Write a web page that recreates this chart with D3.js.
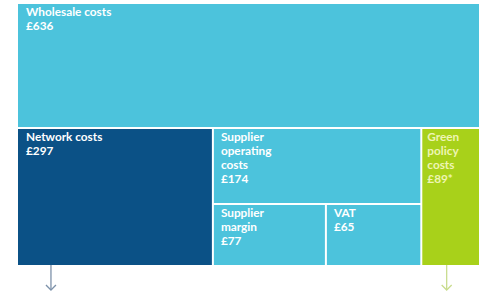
<!DOCTYPE html>
<html>
<head>
<meta charset="utf-8">
<script src="https://cdn.jsdelivr.net/npm/d3@7"></script>
<style>
  html, body { margin: 0; padding: 0; background: #ffffff; }
  svg { display: block; }
</style>
</head>
<body>
<svg id="chart" width="500" height="300"></svg>
<script>
// ---- data ----
const categories = ["Wholesale costs", "Network costs", "Supplier operating costs", "Supplier margin", "VAT", "Green policy costs"];
const labelLines = [
  ["Wholesale costs", "£636"],
  ["Network costs", "£297"],
  ["Supplier", "operating", "costs", "£174"],
  ["Supplier", "margin", "£77"],
  ["VAT", "£65"],
  ["Green", "policy", "costs", "£89*"]
];
const values = [636, 297, 174, 77, 65, 89];
// nesting path of each category (groups used by the slice/dice layout)
const groupPath = [
  ["top"],
  ["rest", "network"],
  ["rest", "middle", "op"],
  ["rest", "middle", "bottom", "margin"],
  ["rest", "middle", "bottom", "vat"],
  ["rest", "green"]
];
const fills = ["#4cc3dc", "#0b5186", "#4cc3dc", "#4cc3dc", "#4cc3dc", "#a8d11a"];
const textColors = ["#ffffff", "#ffffff", "#ffffff", "#ffffff", "#ffffff", "#eef5b4"];
const arrowFor = ["Network costs", "Green policy costs"];
const arrowColors = ["#7d92aa", "#c9dc8e"];

// ---- build hierarchy ----
function buildTree() {
  const root = { name: "root", children: [] };
  categories.forEach((c, i) => {
    let node = root;
    const path = groupPath[i];
    for (let k = 0; k < path.length - 1; k++) {
      let child = node.children.find(n => n.name === path[k]);
      if (!child) { child = { name: path[k], children: [] }; node.children.push(child); }
      node = child;
    }
    node.children.push({ name: c, index: i, value: values[i] });
  });
  return root;
}

const W = 500, H = 300;
const margin = { left: 18, top: 4, right: 21, bottom: 35 };
const innerW = W - margin.left - margin.right;
const innerH = H - margin.top - margin.bottom;

const root = d3.hierarchy(buildTree())
  .sum(d => d.value || 0);

function tile(node, x0, y0, x1, y1) {
  (node.depth % 2 === 0 ? d3.treemapSlice : d3.treemapDice)(node, x0, y0, x1, y1);
}

d3.treemap()
  .tile(tile)
  .size([innerW, innerH])
  .paddingInner(2)
  .round(false)(root);

const svg = d3.select("#chart");
const g = svg.append("g").attr("transform", `translate(${margin.left},${margin.top})`);

const leaves = root.leaves();

const cell = g.selectAll("g.cell")
  .data(leaves)
  .join("g")
  .attr("class", "cell")
  .attr("transform", d => `translate(${d.x0},${d.y0})`);

cell.append("rect")
  .attr("width", d => d.x1 - d.x0)
  .attr("height", d => d.y1 - d.y0)
  .attr("fill", d => fills[d.data.index]);

cell.append("text")
  .attr("fill", d => textColors[d.data.index])
  .attr("font-family", "Lato, 'Open Sans', sans-serif")
  .attr("font-weight", "bold")
  .attr("font-size", 11.8)
  .selectAll("tspan")
  .data(d => labelLines[d.data.index].map(t => ({ t, idx: d.data.index })))
  .join("tspan")
  .attr("x", d => d.idx === 0 || d.idx === 1 ? 8 : (d.idx === 5 ? 5 : 7))
  .attr("y", (d, i) => 12 + i * 14)
  .text(d => d.t);

// ---- arrows below selected boxes ----
const arrowG = g.append("g");
arrowFor.forEach((name, k) => {
  const leaf = leaves.find(l => l.data.name === name);
  const xs = d3.scaleLinear().domain([0, 1]).range([leaf.x0, leaf.x1]);
  const ax = name === "Network costs" ? xs(0.17) : xs(0.43);
  const yTop = leaf.y1;
  const yBot = innerH + 25;
  arrowG.append("line")
    .attr("x1", ax).attr("x2", ax)
    .attr("y1", yTop).attr("y2", yBot)
    .attr("stroke", arrowColors[k]).attr("stroke-width", 1.3);
  arrowG.append("path")
    .attr("d", `M${ax - 5},${yBot - 5} L${ax},${yBot} L${ax + 5},${yBot - 5}`)
    .attr("fill", "none")
    .attr("stroke", arrowColors[k]).attr("stroke-width", 1.3);
});
</script>
</body>
</html>
